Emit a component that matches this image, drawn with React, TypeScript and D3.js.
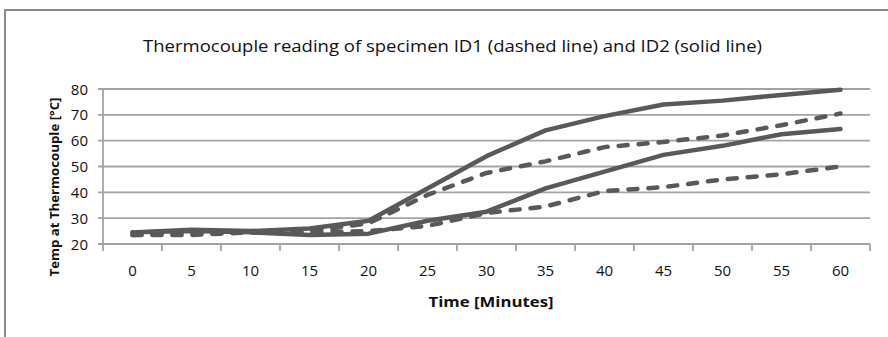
import React from "react";
import * as d3 from "d3";

const categories = ["0", "5", "10", "15", "20", "25", "30", "35", "40", "45", "50", "55", "60"];
const id2Upper = [24.5, 25.5, 25, 26, 29, 41.5, 54, 64, 69.5, 74, 75.5, 77.7, 79.7];
const id2Lower = [24.5, 25, 24.5, 23.5, 24, 29, 32.5, 41.5, 48, 54.5, 58, 62.5, 64.5];
const id1Upper = [23.5, 24, 24.5, 25, 28, 39, 47.5, 52, 57.5, 59.5, 62, 66, 70.5];
const id1Lower = [23.5, 23.5, 24.5, 24.5, 25, 27, 32, 34.5, 40.5, 42, 45, 47, 50];
const yTicks = [20, 30, 40, 50, 60, 70, 80];

const W = 888;
const H = 337;
const left = 103;
const right = 870;
const top = 89;
const bottom = 244;

export default function App() {
  const x = d3.scaleBand<string>().domain(categories).range([left, right]).padding(0);
  const y = d3.scaleLinear().domain([20, 80]).range([bottom, top]);
  const line = d3
    .line<number>()
    .x((_, i) => (x(categories[i]) as number) + x.bandwidth() / 2)
    .y((d) => y(d));

  const series = [
    { data: id2Upper, dashed: false },
    { data: id2Lower, dashed: false },
    { data: id1Upper, dashed: true },
    { data: id1Lower, dashed: true },
  ];
  const font = "'Open Sans', 'DejaVu Sans', sans-serif";
  const bounds = categories.map((c) => x(c) as number).concat([right]);

  return (
    <svg width={W} height={H} style={{ position: "absolute", left: 0, top: 0 }} fontFamily={font}>
      <rect x={0} y={0} width={W} height={H} fill="#fff" />
      <rect x={5} y={10} width={W + 20} height={H + 20} fill="none" stroke="#8c8c8c" strokeWidth={2} />
      <text x={452.5} y={52} textAnchor="middle" fontSize={16.5} fill="#111" textLength={619} lengthAdjust="spacingAndGlyphs">
        Thermocouple reading of specimen ID1 (dashed line) and ID2 (solid line)
      </text>
      {yTicks.map((t) => (
        <g key={t}>
          <line x1={left - 5} x2={right} y1={y(t)} y2={y(t)} stroke="#a3a3a3" strokeWidth={1.8} />
          <text x={88} y={y(t) + 5.5} textAnchor="end" fontSize={15} fill="#111">
            {t}
          </text>
        </g>
      ))}
      <line x1={left} x2={left} y1={top} y2={bottom} stroke="#a3a3a3" strokeWidth={1.8} />
      {bounds.map((b, i) => (
        <line key={i} x1={b} x2={b} y1={bottom} y2={bottom + 7} stroke="#a3a3a3" strokeWidth={1.8} />
      ))}
      {categories.map((c) => (
        <text key={c} x={(x(c) as number) + x.bandwidth() / 2} y={275.5} textAnchor="middle" fontSize={15} fill="#111">
          {c}
        </text>
      ))}
      {series.map((s, i) => (
        <path
          key={i}
          d={line(s.data) as string}
          fill="none"
          stroke="#595959"
          strokeWidth={4.5}
          strokeLinejoin="round"
          strokeLinecap="round"
          strokeDasharray={s.dashed ? "9 11" : undefined}
        />
      ))}
      <text
        transform="translate(59,187) rotate(-90)"
        textAnchor="middle"
        fontSize={13}
        fontWeight="bold"
        fill="#111"
        textLength={179}
        lengthAdjust="spacingAndGlyphs"
      >
        Temp at Thermocouple [°C]
      </text>
      <text x={491} y={306.5} textAnchor="middle" fontSize={15} fontWeight="bold" fill="#111" textLength={125} lengthAdjust="spacingAndGlyphs">
        Time [Minutes]
      </text>
    </svg>
  );
}
